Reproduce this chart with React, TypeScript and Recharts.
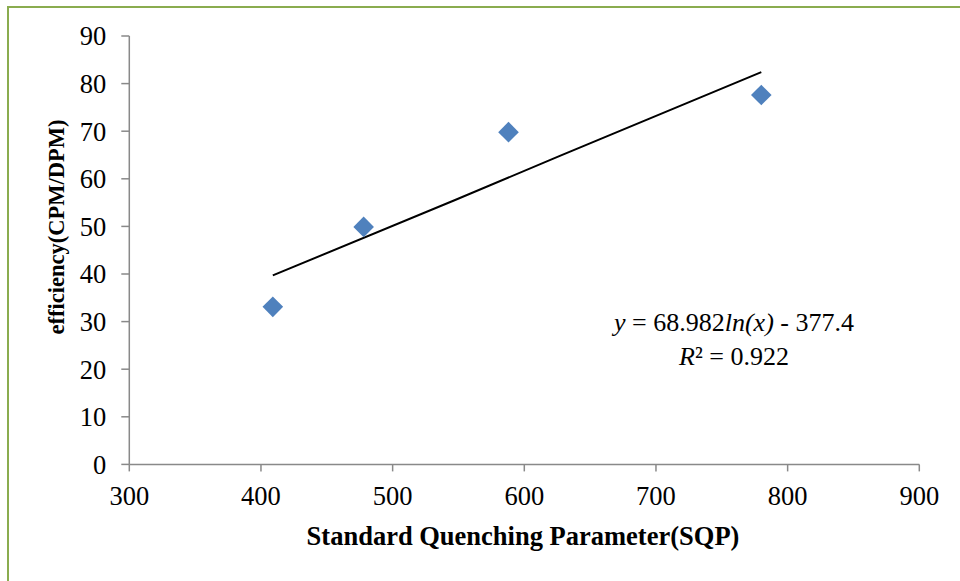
import React from 'react';
import { ScatterChart, Scatter, XAxis, YAxis, Customized } from 'recharts';

const sqp = [409, 478, 588, 780];
const efficiency = [33.1, 49.9, 69.8, 77.6];
const trendX = [409, 547, 627, 780];
const trendY = [39.7, 55.5, 64.8, 82.4];
const xTicks = [300, 400, 500, 600, 700, 800, 900];
const yTicks = [0, 10, 20, 30, 40, 50, 60, 70, 80, 90];
const xTitle = 'Standard Quenching Parameter(SQP)';
const yTitle = 'efficiency(CPM/DPM)';

const points = sqp.map((x, i) => ({ x, y: efficiency[i] }));
const trend = trendX.map((x, i) => ({ x, y: trendY[i] }));

const FONT = '"Liberation Serif", "Times New Roman", serif';
const AXIS = '#898989';

const Diamond = (props: any) => {
  const { cx, cy } = props;
  const r = 10.3;
  return (
    <path
      d={`M${cx},${cy - r}L${cx + r},${cy}L${cx},${cy + r}L${cx - r},${cy}Z`}
      fill="#4f81bd"
    />
  );
};

const NoShape = () => <g />;

const Texts = () => (
  <g fill="#000">
    <text x={523} y={545} textAnchor="middle" fontSize={26.5} fontWeight="bold" fontFamily={FONT}>
      {xTitle}
    </text>
    <text
      transform="translate(63.5, 227) rotate(-90)"
      x={0}
      y={0}
      textAnchor="middle"
      fontSize={22.5}
      fontWeight="bold"
      fontFamily={FONT}
    >
      {yTitle}
    </text>
    <text x={734} y={331} textAnchor="middle" fontSize={26} fontFamily={FONT}>
      <tspan fontStyle="italic">y</tspan> = 68.982<tspan fontStyle="italic">ln(x)</tspan> - 377.4
    </text>
    <text x={734} y={365} textAnchor="middle" fontSize={26} fontFamily={FONT}>
      <tspan fontStyle="italic">R</tspan>² = 0.922
    </text>
  </g>
);

export default function App() {
  return (
    <div
      style={{
        position: 'absolute',
        left: 0,
        top: 0,
        width: 960,
        height: 581,
        overflow: 'hidden',
        background: '#fff',
      }}
    >
      <div
        style={{
          position: 'absolute',
          left: 6.5,
          top: 5.5,
          width: 1100,
          height: 800,
          border: '2px solid #8aac4f',
          boxSizing: 'border-box',
        }}
      />
      <div style={{ position: 'absolute', left: 0, top: 0 }}>
        <ScatterChart
          width={960}
          height={581}
          margin={{ top: 36, right: 40.7, bottom: 36.6, left: 0 }}
        >
          <XAxis
            type="number"
            dataKey="x"
            domain={[300, 900]}
            ticks={xTicks}
            interval={0}
            height={80}
            tickSize={7}
            tickMargin={15}
            axisLine={{ stroke: AXIS, strokeWidth: 1.5 }}
            tickLine={{ stroke: AXIS, strokeWidth: 1.5 }}
            tick={{ fill: '#000', fontSize: 26.5, fontFamily: FONT }}
            allowDataOverflow
          />
          <YAxis
            type="number"
            dataKey="y"
            domain={[0, 90]}
            ticks={yTicks}
            interval={0}
            width={129.3}
            tickSize={8}
            tickMargin={15}
            axisLine={{ stroke: AXIS, strokeWidth: 1.5 }}
            tickLine={{ stroke: AXIS, strokeWidth: 1.5 }}
            tick={{ fill: '#000', fontSize: 26.5, fontFamily: FONT }}
            allowDataOverflow
          />
          <Scatter
            data={trend}
            line={{ stroke: '#000', strokeWidth: 2 }}
            shape={NoShape}
            isAnimationActive={false}
          />
          <Scatter data={points} shape={Diamond} isAnimationActive={false} />
          <Customized component={Texts} />
        </ScatterChart>
      </div>
    </div>
  );
}
